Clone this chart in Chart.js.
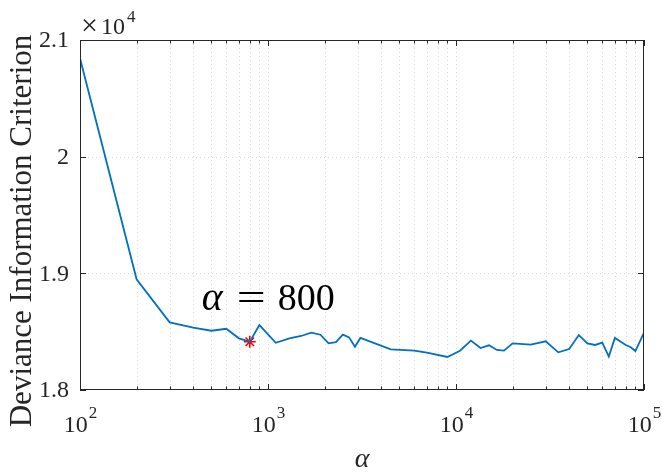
<!DOCTYPE html>
<html>
<head>
<meta charset="utf-8">
<script src="https://cdn.jsdelivr.net/npm/chart.js@4"></script>
<style>
  html, body { margin: 0; padding: 0; background: #fff; }
  #wrap { width: 662px; height: 473px; position: relative; }
</style>
</head>
<body>
<div id="wrap"><canvas id="dic"></canvas></div>
<script>
// values
const alphas = [100, 200, 300, 400, 500, 600, 700, 800, 900,
  1100, 1300, 1500, 1700, 1900, 2100, 2300, 2500, 2700, 2900, 3100,
  4500, 6000, 7000, 9000, 10500, 12000, 13500, 15000, 16500, 18000,
  20000, 25000, 30000, 35000, 40000, 45000, 50000, 55000, 60000, 65000,
  70000, 80000, 85000, 90000, 100000];
const dic = [20843, 18949, 18580, 18534, 18508, 18525, 18443, 18414, 18557,
  18405, 18443, 18463, 18491, 18474, 18400, 18411, 18474, 18451, 18371, 18446,
  18349, 18337, 18320, 18283, 18337, 18423, 18360, 18383, 18343, 18337,
  18400, 18389, 18417, 18323, 18351, 18471, 18400, 18386, 18406, 18286,
  18446, 18386, 18366, 18334, 18491];
const bestAlpha = [800];
const bestDic = [18414];
const yTicks = [18000, 19000, 20000, 21000];
const xMajor = [100, 1000, 10000, 100000];
const xExp = ["2", "3", "4", "5"];

const FONT = '"Liberation Serif", "DejaVu Serif", serif';

// minor positions 2..9 per decade
const xMinor = [];
for (let d = 100; d < 100000; d *= 10) {
  for (let k = 2; k <= 9; k++) xMinor.push(d * k);
}

const frame = {
  id: "frame",
  beforeDatasetsDraw(chart) {
    const { ctx, chartArea: a, scales } = chart;
    ctx.save();
    ctx.strokeStyle = "#cfcfcf";
    ctx.lineWidth = 0.8;
    ctx.setLineDash([1, 3]);
    xMinor.concat(xMajor.slice(1, 3)).forEach(v => {
      const x = Math.round(scales.x.getPixelForValue(v)) + 0.5;
      ctx.beginPath(); ctx.moveTo(x, a.top); ctx.lineTo(x, a.bottom); ctx.stroke();
    });
    yTicks.slice(1, 3).forEach(v => {
      const y = Math.round(scales.y.getPixelForValue(v)) + 0.5;
      ctx.beginPath(); ctx.moveTo(a.left, y); ctx.lineTo(a.right, y); ctx.stroke();
    });
    ctx.restore();
  },
  afterDatasetsDraw(chart) {
    const { ctx, chartArea: a, scales } = chart;
    ctx.save();
    ctx.strokeStyle = "#262626";
    ctx.lineWidth = 1;
    ctx.setLineDash([]);
    ctx.strokeRect(a.left + 0.5, a.top + 0.5, a.right - a.left - 1, a.bottom - a.top - 1);

    // ticks, pointing inwards
    const tick = (x, len) => {
      ctx.beginPath();
      ctx.moveTo(x, a.bottom); ctx.lineTo(x, a.bottom - len);
      ctx.moveTo(x, a.top); ctx.lineTo(x, a.top + len);
      ctx.stroke();
    };
    xMinor.forEach(v => tick(Math.round(scales.x.getPixelForValue(v)) + 0.5, 3.5));
    xMajor.forEach(v => tick(Math.round(scales.x.getPixelForValue(v)) + 0.5, 6));
    yTicks.forEach(v => {
      const y = Math.round(scales.y.getPixelForValue(v)) + 0.5;
      ctx.beginPath();
      ctx.moveTo(a.left, y); ctx.lineTo(a.left + 6, y);
      ctx.moveTo(a.right, y); ctx.lineTo(a.right - 6, y);
      ctx.stroke();
    });

    ctx.fillStyle = "#262626";
    // y tick labels
    ctx.font = "24px " + FONT;
    ctx.textAlign = "right";
    ctx.textBaseline = "middle";
    yTicks.forEach(v => {
      ctx.fillText(String(v / 10000), a.left - 11, scales.y.getPixelForValue(v) + 1);
    });

    // x tick labels 10^n
    ctx.textBaseline = "alphabetic";
    xMajor.forEach((v, i) => {
      const x = scales.x.getPixelForValue(v);
      ctx.font = "24px " + FONT;
      const wb = ctx.measureText("10").width;
      ctx.font = "17px " + FONT;
      const we = ctx.measureText(xExp[i]).width;
      const x0 = x - (wb + we) / 2;
      ctx.textAlign = "left";
      ctx.font = "24px " + FONT;
      ctx.fillText("10", x0, a.bottom + 42);
      ctx.font = "17px " + FONT;
      ctx.fillText(xExp[i], x0 + wb + 1, a.bottom + 28);
    });

    // exponent label above the y axis
    ctx.textAlign = "left";
    ctx.font = "30px " + FONT;
    ctx.fillText("\u00d7", a.left + 1, a.top - 5);
    ctx.font = "24px " + FONT;
    ctx.fillText("10", a.left + 21, a.top - 6);
    ctx.font = "17px " + FONT;
    ctx.fillText("4", a.left + 47, a.top - 18);

    // axis titles
    ctx.font = "italic 28px " + FONT;
    ctx.textAlign = "center";
    ctx.fillText("\u03b1", (a.left + a.right) / 2, a.bottom + 77);

    ctx.save();
    ctx.translate(23, (a.top + a.bottom) / 2 + 16);
    ctx.rotate(-Math.PI / 2);
    ctx.font = "31px " + FONT;
    ctx.textBaseline = "middle";
    ctx.fillText("Deviance Information Criterion", 0, 0);
    ctx.restore();

    // annotation near the minimum
    const px = scales.x.getPixelForValue(bestAlpha[0]);
    const py = scales.y.getPixelForValue(bestDic[0]);
    const ay = py - 32;
    ctx.fillStyle = "#000";
    ctx.textAlign = "left";
    ctx.font = "italic 40px " + FONT;
    ctx.fillText("\u03b1", px - 48, ay);
    ctx.font = "38px " + FONT;
    ctx.save();
    ctx.translate(px - 13, ay);
    ctx.scale(1.35, 1);
    ctx.fillText("=", 0, 0);
    ctx.restore();
    ctx.fillText("800", px + 28, ay);
    ctx.restore();
  }
};

new Chart(document.getElementById("dic"), {
  type: "scatter",
  data: {
    datasets: [
      {
        data: alphas.map((a, i) => ({ x: a, y: dic[i] })),
        showLine: true,
        borderColor: "#0072BD",
        borderWidth: 1.8,
        pointRadius: 0,
        tension: 0
      },
      {
        data: bestAlpha.map((a, i) => ({ x: a, y: bestDic[i] })),
        pointStyle: "star",
        pointRadius: 6,
        borderColor: "#ff0000",
        backgroundColor: "#ff0000",
        borderWidth: 1.6
      }
    ]
  },
  options: {
    responsive: true,
    maintainAspectRatio: false,
    animation: false,
    layout: { padding: { left: 80, top: 40, right: 18, bottom: 83 } },
    plugins: { legend: { display: false }, tooltip: { enabled: false } },
    scales: {
      x: { type: "logarithmic", min: 100, max: 100000, display: false },
      y: { type: "linear", min: 18000, max: 21000, display: false }
    }
  },
  plugins: [frame]
});
</script>
</body>
</html>
